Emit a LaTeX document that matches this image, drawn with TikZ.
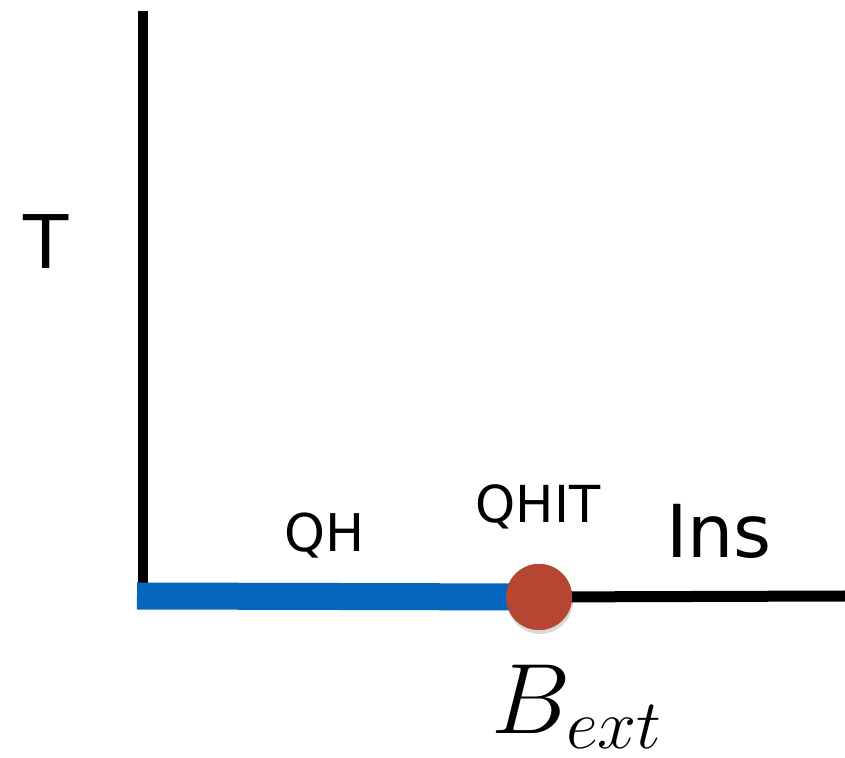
\RequirePackage{fix-cm}
\documentclass[tikz,border=0pt]{standalone}
\usepackage{fontspec}
\setmainfont{DejaVu Sans}
\usetikzlibrary{shadows}
\definecolor{qhblue}{RGB}{5,102,192}
\definecolor{dotred}{RGB}{181,70,50}
\begin{document}
\begin{tikzpicture}[x=1pt,y=1pt,
  axis/.style={line width=10pt,black},
  qhline/.style={line width=27pt,qhblue},
  lbl/.style={inner sep=0pt,anchor=base}]
\useasboundingbox (0,0) rectangle (845,757);
\coordinate (top) at (142.5,746);
\coordinate (origin) at (142.5,161);
\coordinate (left) at (137,161);
\coordinate (right) at (845,161);
\node[circle,fill=dotred,minimum size=66pt,inner sep=0pt,
  drop shadow={shadow xshift=1pt,shadow yshift=-4pt,opacity=0.3}] (dot) at (539,160) {};
\draw[axis] (top) -- (origin);
\draw[qhline] (left) -- (dot.center);
\draw[line width=11pt] (dot.center) -- (right);
\node[circle,fill=dotred,minimum size=66pt,inner sep=0pt] (dot2) at (dot.center) {};
\node[lbl,font=\fontsize{74}{74}\selectfont] (T) at (46,488) {T};
\node[lbl,font=\fontsize{52}{52}\selectfont] (QH) at (325,205) {QH};
\node[lbl,font=\fontsize{51}{51}\selectfont] (QHIT) at (538,234) {QHIT};
\node[lbl,font=\fontsize{73}{73}\selectfont] (Ins) at (719,199) {Ins};
\node[lbl,font=\fontsize{100}{100}\selectfont] (B) at (577,24) {$B_{ext}$};
\end{tikzpicture}
\end{document}
